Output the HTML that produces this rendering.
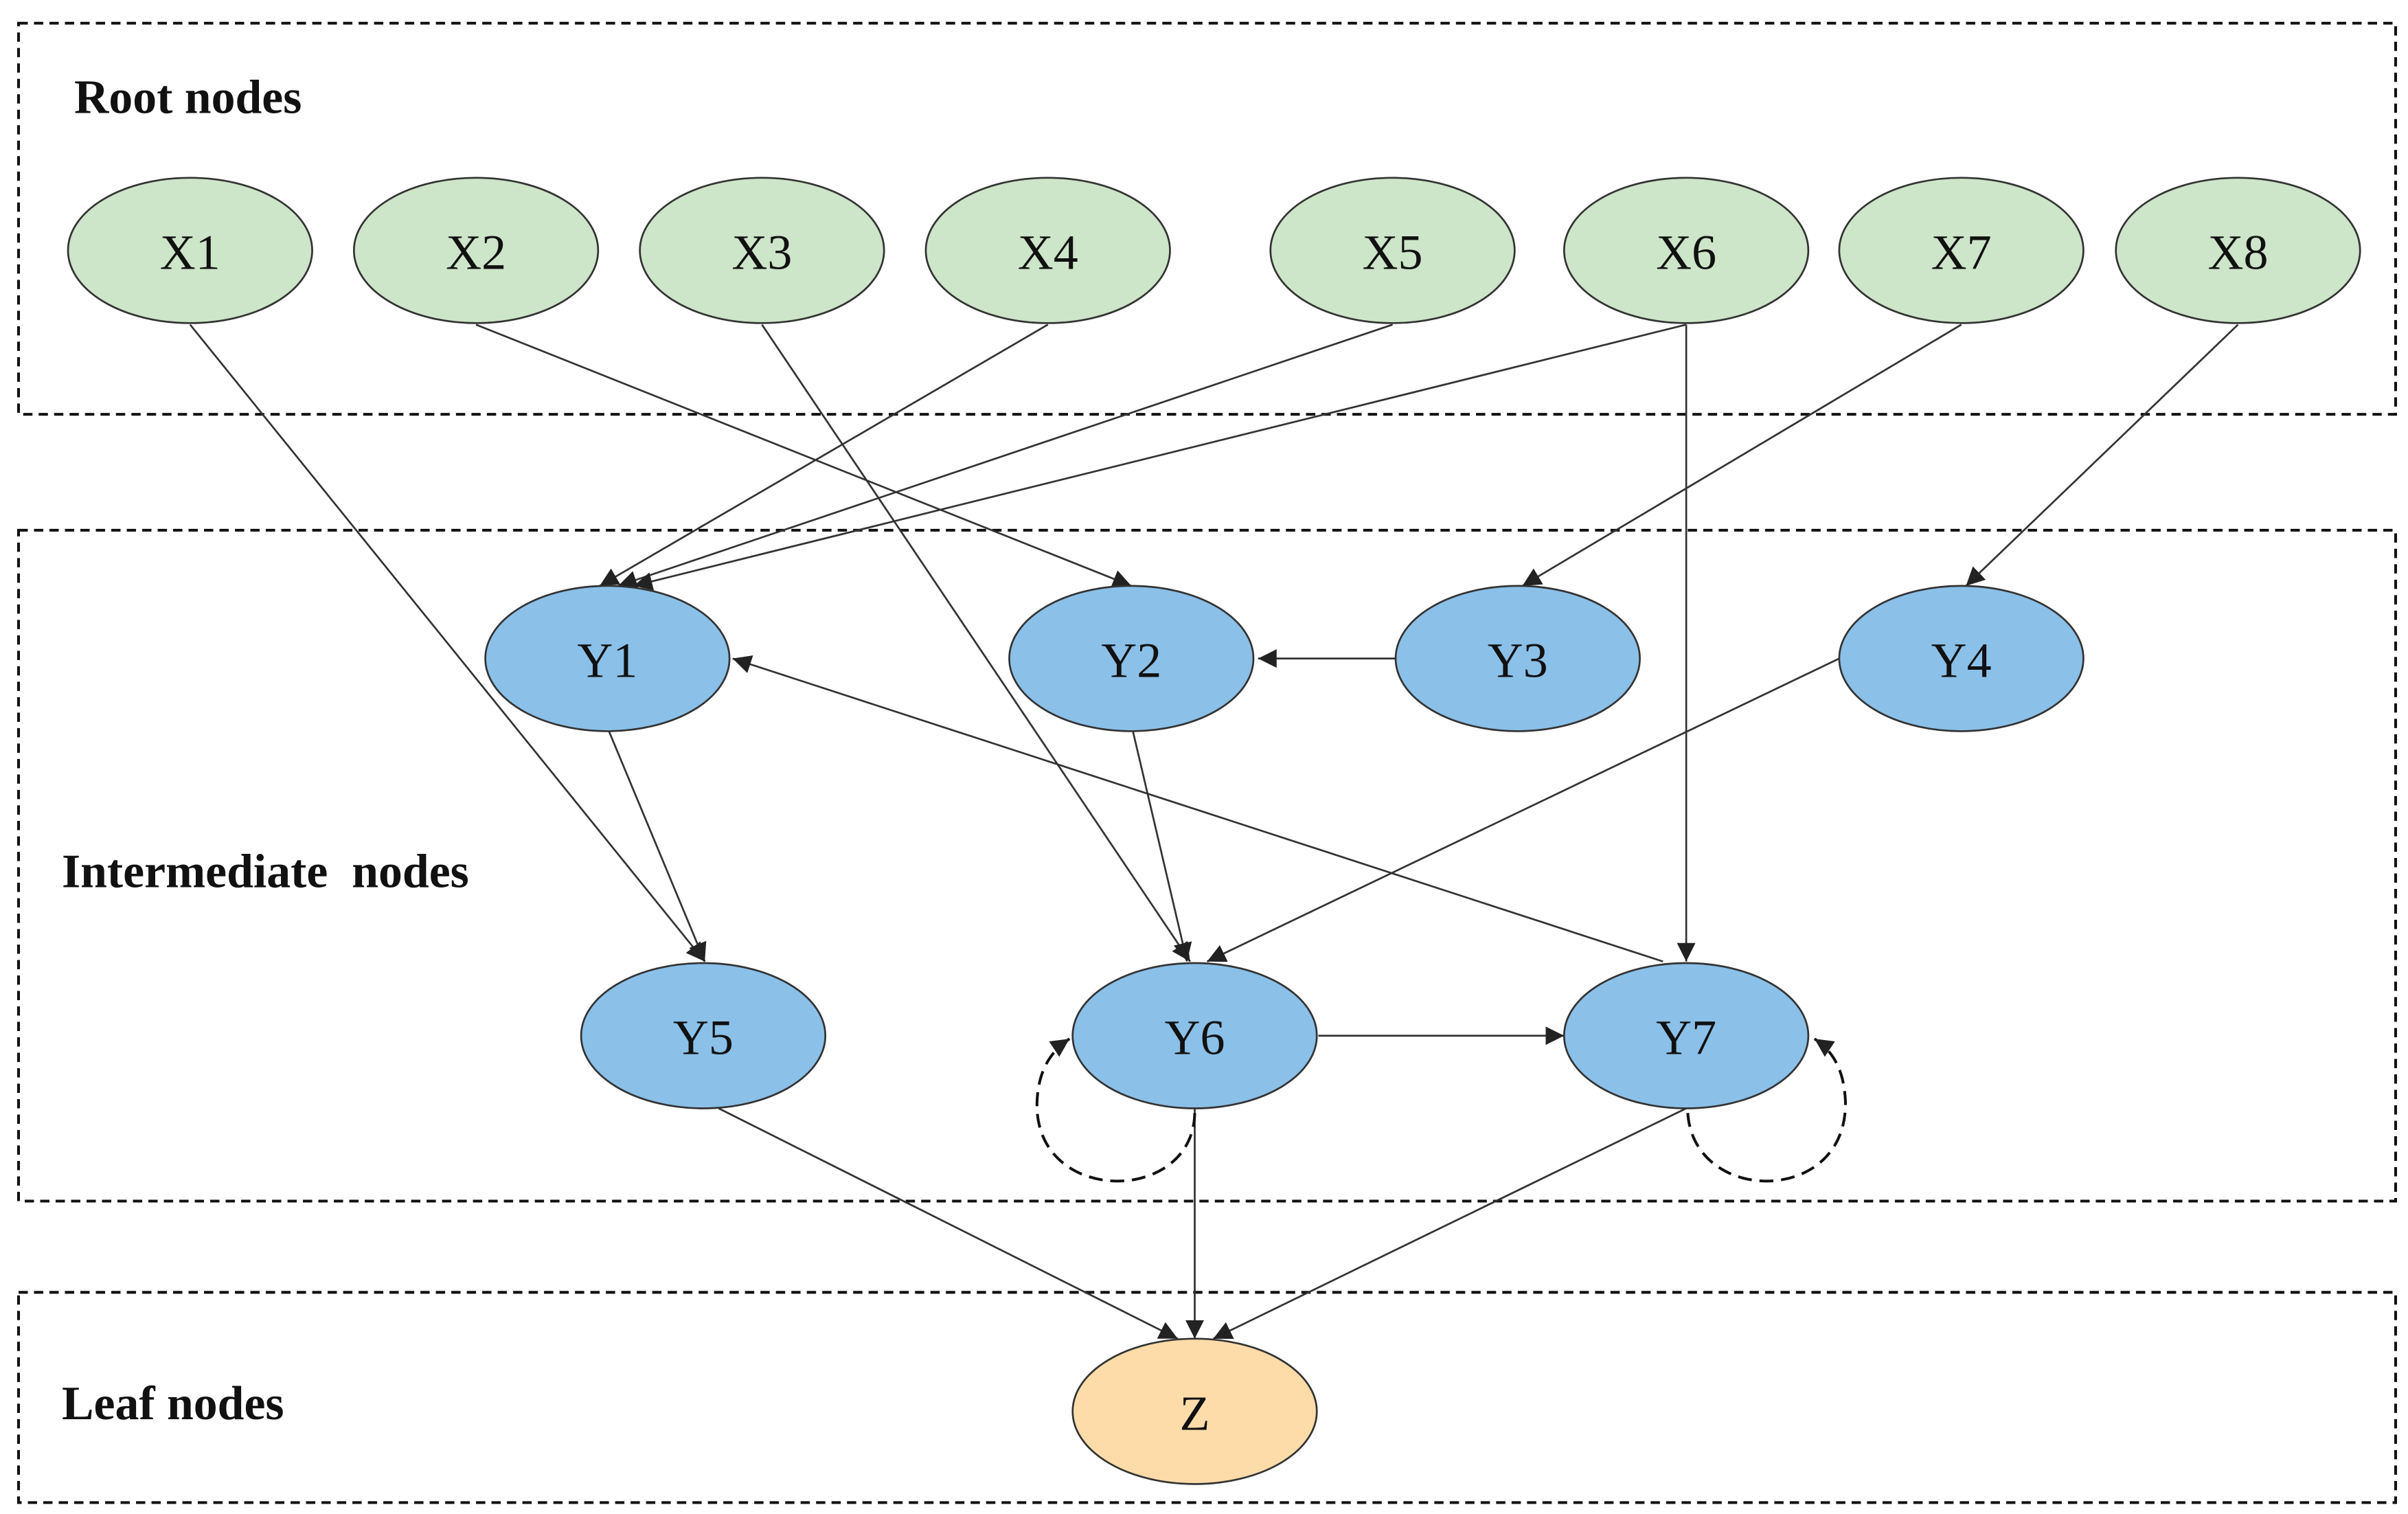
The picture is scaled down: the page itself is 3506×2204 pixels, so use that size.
<!DOCTYPE html>
<html><head><meta charset="utf-8"><style>
html,body{margin:0;padding:0;background:#fff;}
svg{display:block;}
text{font-family:"Liberation Serif",serif;}
</style></head><body>
<svg width="3506" height="2204" viewBox="0 0 1558 979.4" preserveAspectRatio="none" xmlns="http://www.w3.org/2000/svg">
<defs>
<marker id="a" viewBox="0 0 10 10" refX="10" refY="5" markerWidth="12" markerHeight="12" markerUnits="userSpaceOnUse" orient="auto">
<path d="M0,0 L10,5 L0,10 z" fill="#222"/></marker>
</defs>
<g fill="none" stroke="#111" stroke-width="1.8" stroke-dasharray="6,4">
<rect x="12" y="15" width="1538" height="253"/>
<rect x="12" y="343" width="1538" height="434"/>
<rect x="12" y="836" width="1538" height="136"/>
</g>
<g font-weight="bold" font-size="31" fill="#111">
<text x="48" y="73">Root nodes</text>
<text x="40" y="574">Intermediate&#160; nodes</text>
<text x="40" y="918">Leaf nodes</text>
</g>
<g stroke="#333" stroke-width="1.2" fill="none" marker-end="url(#a)">
<line x1="123" y1="210" x2="456" y2="622"/>
<line x1="308" y1="210" x2="732" y2="379"/>
<line x1="493" y1="210" x2="770" y2="622"/>
<line x1="678" y1="210" x2="388" y2="379"/>
<line x1="901" y1="210" x2="400" y2="379"/>
<line x1="1091" y1="210" x2="410" y2="379"/>
<line x1="1091" y1="210" x2="1091" y2="622"/>
<line x1="1269" y1="210" x2="985" y2="379"/>
<line x1="1448" y1="210" x2="1272" y2="379"/>
<line x1="904" y1="426" x2="814" y2="426"/>
<line x1="394" y1="473" x2="456" y2="622"/>
<line x1="733" y1="473" x2="768" y2="622"/>
<line x1="1190" y1="426" x2="781" y2="622"/>
<line x1="1076" y1="622" x2="474" y2="426"/>
<line x1="853" y1="670" x2="1012" y2="670"/>
<line x1="465" y1="717" x2="762" y2="866"/>
<line x1="773" y1="717" x2="773" y2="866"/>
<line x1="1091" y1="717" x2="785" y2="866"/>
</g>
<g stroke="#111" stroke-width="1.8" fill="none" stroke-dasharray="9,5" marker-end="url(#a)">
<path d="M773,720 C772,780 668,780 671,712 C672,692 680,680 692,672"/>
<path d="M1092,720 C1096,780 1196,780 1194,712 C1193,692 1186,680 1174,672"/>
</g>
<g stroke="#333" stroke-width="1.2">
<g fill="#cde5c8">
<ellipse cx="123" cy="162" rx="79" ry="47"/>
<ellipse cx="308" cy="162" rx="79" ry="47"/>
<ellipse cx="493" cy="162" rx="79" ry="47"/>
<ellipse cx="678" cy="162" rx="79" ry="47"/>
<ellipse cx="901" cy="162" rx="79" ry="47"/>
<ellipse cx="1091" cy="162" rx="79" ry="47"/>
<ellipse cx="1269" cy="162" rx="79" ry="47"/>
<ellipse cx="1448" cy="162" rx="79" ry="47"/>
</g>
<g fill="#8bc0e8">
<ellipse cx="393" cy="426" rx="79" ry="47"/>
<ellipse cx="732" cy="426" rx="79" ry="47"/>
<ellipse cx="982" cy="426" rx="79" ry="47"/>
<ellipse cx="1269" cy="426" rx="79" ry="47"/>
<ellipse cx="455" cy="670" rx="79" ry="47"/>
<ellipse cx="773" cy="670" rx="79" ry="47"/>
<ellipse cx="1091" cy="670" rx="79" ry="47"/>
</g>
<ellipse cx="773" cy="913" rx="79" ry="47" fill="#fddcaa"/>
</g>
<g font-size="32" fill="#111" text-anchor="middle">
<text x="123" y="174">X1</text><text x="308" y="174">X2</text><text x="493" y="174">X3</text><text x="678" y="174">X4</text>
<text x="901" y="174">X5</text><text x="1091" y="174">X6</text><text x="1269" y="174">X7</text><text x="1448" y="174">X8</text>
<text x="393" y="438">Y1</text><text x="732" y="438">Y2</text><text x="982" y="438">Y3</text><text x="1269" y="438">Y4</text>
<text x="455" y="682">Y5</text><text x="773" y="682">Y6</text><text x="1091" y="682">Y7</text>
<text x="773" y="925">Z</text>
</g>
</svg>
</body></html>
